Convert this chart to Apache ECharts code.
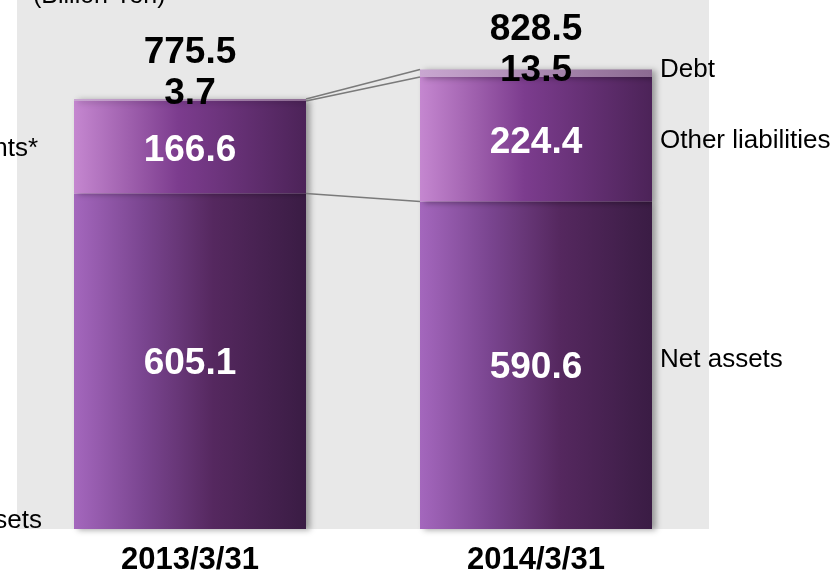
<!DOCTYPE html>
<html>
<head>
<meta charset="utf-8">
<script src="https://cdn.jsdelivr.net/npm/echarts@6/dist/echarts.min.js"></script>
<style>
html,body{margin:0;padding:0;background:#fff;}
#c{width:834px;height:574px;}
</style>
</head>
<body>
<div id="c"></div>
<script>
// ---- data ----
var categories = ['2013/3/31', '2014/3/31'];
var netAssets = [605.1, 590.6];
var otherLiabilities = [166.6, 224.4];
var debt = [3.7, 13.5];
var totals = [775.5, 828.5];
var unitLabel = '(Billion Yen)';
var rightLabels = ['Debt', 'Other liabilities', 'Net assets'];
var leftLabels = ['Investments*', 'Other assets'];

var FONT = "'Liberation Sans', Arial, sans-serif";
var BAR_W = 232;

function grad(stops) {
  return new echarts.graphic.LinearGradient(0, 0, 1, 0, stops.map(function (s) {
    return { offset: s[0], color: s[1] };
  }));
}
var shadow = { shadowColor: 'rgba(0,0,0,0.35)', shadowBlur: 6, shadowOffsetX: 4, shadowOffsetY: 1 };

var innerLabel = {
  show: true, position: 'inside', color: '#fff', fontFamily: FONT,
  fontWeight: 'bold', fontSize: 37
};

var chart = echarts.init(document.getElementById('c'), null, { renderer: 'canvas' });

var debtLabelOffsets = [[0, 15], [0, 22]];

chart.setOption({
  animation: false,
  grid: {
    left: 17, right: 125, top: 0, bottom: 45,
    show: true, backgroundColor: '#e8e8e8', borderWidth: 0,
    outerBoundsMode: 'none', containLabel: false
  },
  xAxis: {
    type: 'category', data: categories,
    axisLine: { show: false }, axisTick: { show: false },
    axisLabel: { color: '#000', fontFamily: FONT, fontWeight: 'bold', fontSize: 31, margin: 16 }
  },
  yAxis: {
    type: 'value', min: 0, max: 954, show: false,
    splitLine: { show: false }
  },
  graphic: [{
    type: 'text', left: 33, top: -16,
    style: { text: unitLabel, font: '25px ' + FONT, fill: '#000' }
  }],
  series: [{
    type: 'bar', stack: 'bs', barWidth: BAR_W, data: netAssets,
    itemStyle: Object.assign({ color: grad([[0, '#a467bd'], [0.3, '#7a4590'], [0.6, '#55285f'], [1, '#3a1c44']]) }, shadow),
    label: Object.assign({}, innerLabel, { offset: [0, 3] })
  }, {
    type: 'bar', stack: 'bs', barWidth: BAR_W, data: otherLiabilities,
    itemStyle: Object.assign({ color: grad([[0, '#c587d0'], [0.45, '#7c3c8e'], [1, '#4c2358']]) }, shadow),
    label: Object.assign({}, innerLabel, { offset: [0, 4] })
  }, {
    type: 'bar', stack: 'bs', barWidth: BAR_W,
    data: debt.map(function (v, i) {
      return {
        value: v,
        label: {
          show: true, position: 'top', distance: 0, offset: debtLabelOffsets[i],
          formatter: '{t|' + totals[i].toFixed(1) + '}\n{d|' + v.toFixed(1) + '}',
          rich: {
            t: { fontFamily: FONT, fontWeight: 'bold', fontSize: 37, color: '#000', lineHeight: 41 },
            d: { fontFamily: FONT, fontWeight: 'bold', fontSize: 37, color: '#000', lineHeight: 41 }
          }
        }
      };
    }),
    itemStyle: Object.assign({ color: grad([[0, '#c9a7d1'], [1, '#8c6b92']]) }, shadow)
  }, {
    type: 'custom', data: [[0, 0]], z: 5, silent: true,
    renderItem: function (params, api) {
      var h = BAR_W / 2;
      var a0 = api.coord([0, totals[0]]), b0 = api.coord([1, totals[1]]);
      var a1 = api.coord([0, totals[0] - debt[0]]), b1 = api.coord([1, totals[1] - debt[1]]);
      var a2 = api.coord([0, netAssets[0]]), b2 = api.coord([1, netAssets[1]]);
      var ls = { stroke: '#7a7a7a', lineWidth: 1.6 };
      function line(a, b) {
        return { type: 'line', shape: { x1: a[0] + h, y1: a[1], x2: b[0] - h, y2: b[1] }, style: ls };
      }
      function txt(x, y, s, align) {
        return { type: 'text', x: x, y: y, style: { text: s, font: '26px ' + FONT, fill: '#000', align: align, verticalAlign: 'middle' } };
      }
      var rx = b0[0] + h + 8;
      var oMid2 = api.coord([1, netAssets[1] + otherLiabilities[1] / 2]);
      var nMid2 = api.coord([1, netAssets[1] / 2]);
      var oMid1 = api.coord([0, netAssets[0] + otherLiabilities[0] / 2]);
      var base1 = api.coord([0, 0]);
      var lx = a0[0] - h - 36;
      return {
        type: 'group', children: [
          line(a0, b0), line(a1, b1), line(a2, b2),
          txt(rx, b0[1], rightLabels[0], 'left'),
          txt(rx, oMid2[1] + 2, rightLabels[1], 'left'),
          txt(rx, nMid2[1] - 5, rightLabels[2], 'left'),
          txt(lx, oMid1[1] + 2, leftLabels[0], 'right'),
          txt(lx + 4, base1[1] - 8, leftLabels[1], 'right')
        ]
      };
    }
  }]
});
</script>
</body>
</html>
